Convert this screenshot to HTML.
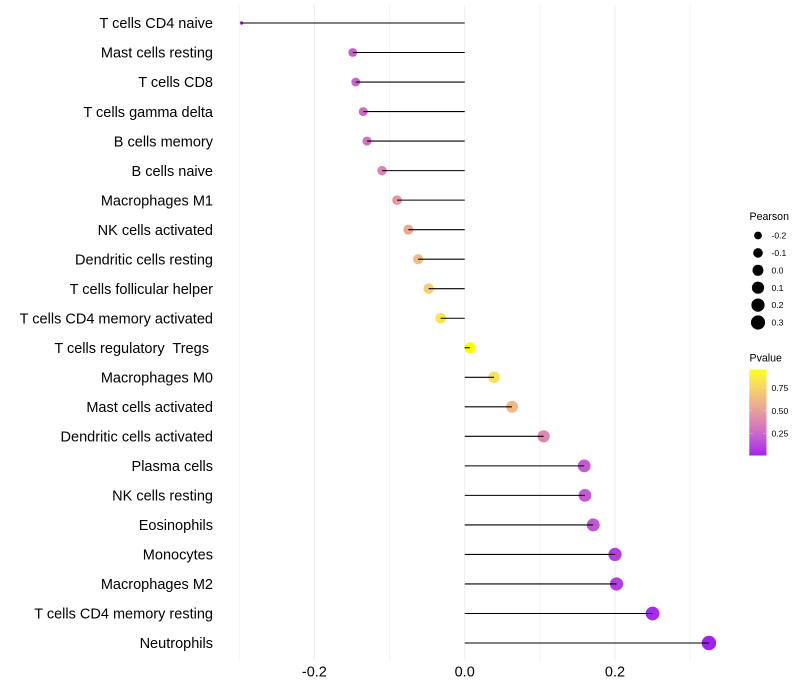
<!DOCTYPE html>
<html lang="en">
<head>
<meta charset="utf-8">
<title>Immune cell correlation lollipop chart</title>
<style>
html,body{margin:0;padding:0;background:#fff;width:800px;height:700px;overflow:hidden}
svg{display:block}
text{font-family:"Liberation Sans",Arial,sans-serif;white-space:pre}
</style>
</head>
<body>
<svg id="chart" xmlns="http://www.w3.org/2000/svg" width="800" height="700" viewBox="0 0 800 700">
<defs><linearGradient id="pgrad" x1="0" y1="1" x2="0" y2="0"></linearGradient></defs>
<g id="grid"></g>
<g id="marks"></g>
<g id="ylabels"></g>
<g id="xlabels"></g>
<g id="size-legend">
<text x="749.5" y="220" font-size="10.6" fill="#000">Pearson</text>
</g>
<g id="color-legend">
<text x="749.5" y="361.5" font-size="10.6" fill="#000">Pvalue</text>
</g>
</svg>
<script>
const categories = ["T cells CD4 naive","Mast cells resting","T cells CD8","T cells gamma delta","B cells memory","B cells naive","Macrophages M1","NK cells activated","Dendritic cells resting","T cells follicular helper","T cells CD4 memory activated","T cells regulatory  Tregs ","Macrophages M0","Mast cells activated","Dendritic cells activated","Plasma cells","NK cells resting","Eosinophils","Monocytes","Macrophages M2","T cells CD4 memory resting","Neutrophils"];
const pearson = [-0.297,-0.149,-0.145,-0.135,-0.130,-0.110,-0.090,-0.075,-0.062,-0.048,-0.032,0.007,0.039,0.063,0.105,0.159,0.160,0.171,0.200,0.202,0.250,0.325];
const pvalue = [0.02,0.22,0.24,0.27,0.30,0.38,0.47,0.55,0.63,0.72,0.82,0.95,0.80,0.62,0.40,0.20,0.20,0.18,0.10,0.10,0.04,0.015];
const xMajorTicks = [-0.2,0,0.2];
const xMinorTicks = [-0.3,-0.1,0.1,0.3];
const xTickLabels = ["-0.2","0.0","0.2"];
const sizeLegendValues = [-0.2,-0.1,0,0.1,0.2,0.3];
const sizeLegendLabels = ["-0.2","-0.1","0.0","0.1","0.2","0.3"];
const colorLegendValues = [0.25,0.5,0.75];
const colorLegendLabels = ["0.25","0.50","0.75"];

const NS = "http://www.w3.org/2000/svg";
function make(parent, tag, attrs, txt) {
  const el = document.createElementNS(NS, tag);
  for (const k in attrs) el.setAttribute(k, attrs[k]);
  if (txt !== undefined) el.textContent = txt;
  parent.appendChild(el);
  return el;
}
const xScale = v => 464.7 + v * 751.5;
const yScale = i => 23 + i * (620 / (categories.length - 1));
const minP = Math.min(...pearson), maxP = Math.max(...pearson);
const rScale = v => 1.7 + 5.5 * Math.sqrt(Math.max(0, (v - minP) / (maxP - minP)));

// Lab interpolation between purple and yellow, as a ggplot gradient does
function toLab(rgb) {
  const l = rgb.map(c => { c /= 255; return c > 0.04045 ? Math.pow((c + 0.055) / 1.055, 2.4) : c / 12.92; });
  const X = (0.4124 * l[0] + 0.3576 * l[1] + 0.1805 * l[2]) / 0.95047;
  const Y = 0.2126 * l[0] + 0.7152 * l[1] + 0.0722 * l[2];
  const Z = (0.0193 * l[0] + 0.1192 * l[1] + 0.9505 * l[2]) / 1.08883;
  const f = t => t > 0.008856 ? Math.cbrt(t) : 7.787 * t + 16 / 116;
  return [116 * f(Y) - 16, 500 * (f(X) - f(Y)), 200 * (f(Y) - f(Z))];
}
function fromLab(lab) {
  const fy = (lab[0] + 16) / 116, fx = fy + lab[1] / 500, fz = fy - lab[2] / 200;
  const g = t => t * t * t > 0.008856 ? t * t * t : (t - 16 / 116) / 7.787;
  const X = g(fx) * 0.95047, Y = g(fy), Z = g(fz) * 1.08883;
  const l = [3.2406 * X - 1.5372 * Y - 0.4986 * Z, -0.9689 * X + 1.8758 * Y + 0.0415 * Z, 0.0557 * X - 0.204 * Y + 1.057 * Z];
  return l.map(c => {
    c = Math.max(0, Math.min(1, c));
    c = c > 0.0031308 ? 1.055 * Math.pow(c, 1 / 2.4) - 0.055 : 12.92 * c;
    return Math.round(c * 255);
  });
}
const labLow = toLab([160, 32, 240]), labHigh = toLab([255, 255, 0]);
const minPv = Math.min(...pvalue), maxPv = Math.max(...pvalue);
function colorScale(p) {
  const t = Math.max(0, Math.min(1, (p - minPv) / (maxPv - minPv)));
  const c = fromLab(labLow.map((v, i) => v + (labHigh[i] - v) * t));
  return "rgb(" + c.join(",") + ")";
}

const grid = document.getElementById("grid");
const marks = document.getElementById("marks");
const ylabels = document.getElementById("ylabels");
const xlabels = document.getElementById("xlabels");
const sizeLegend = document.getElementById("size-legend");
const colorLegend = document.getElementById("color-legend");

xMinorTicks.forEach(v => {
  const el = make(grid, "line", {x1: xScale(v), x2: xScale(v), y1: 5, y2: 660, stroke: "#f3f3f3", "stroke-width": 1});
  
  
});
xMajorTicks.forEach((v, i) => {
  const el = make(grid, "line", {x1: xScale(v), x2: xScale(v), y1: 5, y2: 660, stroke: "#eeeeee", "stroke-width": 1});
  
  
  const t = make(xlabels, "text", {x: xScale(v), y: 676.5, "text-anchor": "middle", "font-size": 14.5, fill: "#000"}, xTickLabels[i]);
  
  
});

categories.forEach((name, i) => {
  const y = yScale(i);
  const dot = make(marks, "circle", {cx: xScale(pearson[i]), cy: y, r: rScale(pearson[i]), fill: colorScale(pvalue[i])});
  
  
  const line = make(marks, "line", {x1: xScale(0), x2: xScale(pearson[i]), y1: y, y2: y, stroke: "#000", "stroke-width": 1.07});
  
  
  const label = make(ylabels, "text", {x: 213, y: y + 5.2, "text-anchor": "end", "font-size": 14.52, fill: "#000"}, name);
  
  
});

sizeLegendValues.forEach((v, i) => {
  const y = 235.5 + i * 17.4;
  const c = make(sizeLegend, "circle", {cx: 758, cy: y, r: rScale(v), fill: "#000"});
  
  
  const t = make(sizeLegend, "text", {x: 771.5, y: y + 3.1, "font-size": 8.6, fill: "#000"}, sizeLegendLabels[i]);
  
  
});

const barTop = 369.5, barBottom = 455.5, barLeft = 749.3, barWidth = 17.2;
const grad = document.getElementById("pgrad");
for (let s = 0; s <= 60; s++) {
  const frac = s / 60;
  const p = minPv + (maxPv - minPv) * frac;
  make(grad, "stop", {offset: frac, "stop-color": colorScale(p)});
}
const bar = make(colorLegend, "rect", {x: barLeft, y: barTop, width: barWidth, height: barBottom - barTop, fill: "url(#pgrad)"});


const legendY = p => 410.7 - (p - 0.5) * 90.8;
colorLegendValues.forEach((v, i) => {
  const y = legendY(v);
  const a = make(colorLegend, "line", {x1: barLeft, x2: barLeft + 3.4, y1: y, y2: y, stroke: "#fff", "stroke-opacity": 0.45, "stroke-width": 0.6});
  
  
  const b = make(colorLegend, "line", {x1: barLeft + barWidth - 3.4, x2: barLeft + barWidth, y1: y, y2: y, stroke: "#fff", "stroke-opacity": 0.45, "stroke-width": 0.6});
  
  
  const t = make(colorLegend, "text", {x: 771.5, y: y + 3.1, "font-size": 8.6, fill: "#000"}, colorLegendLabels[i]);
  
  
});
</script>
</body>
</html>
